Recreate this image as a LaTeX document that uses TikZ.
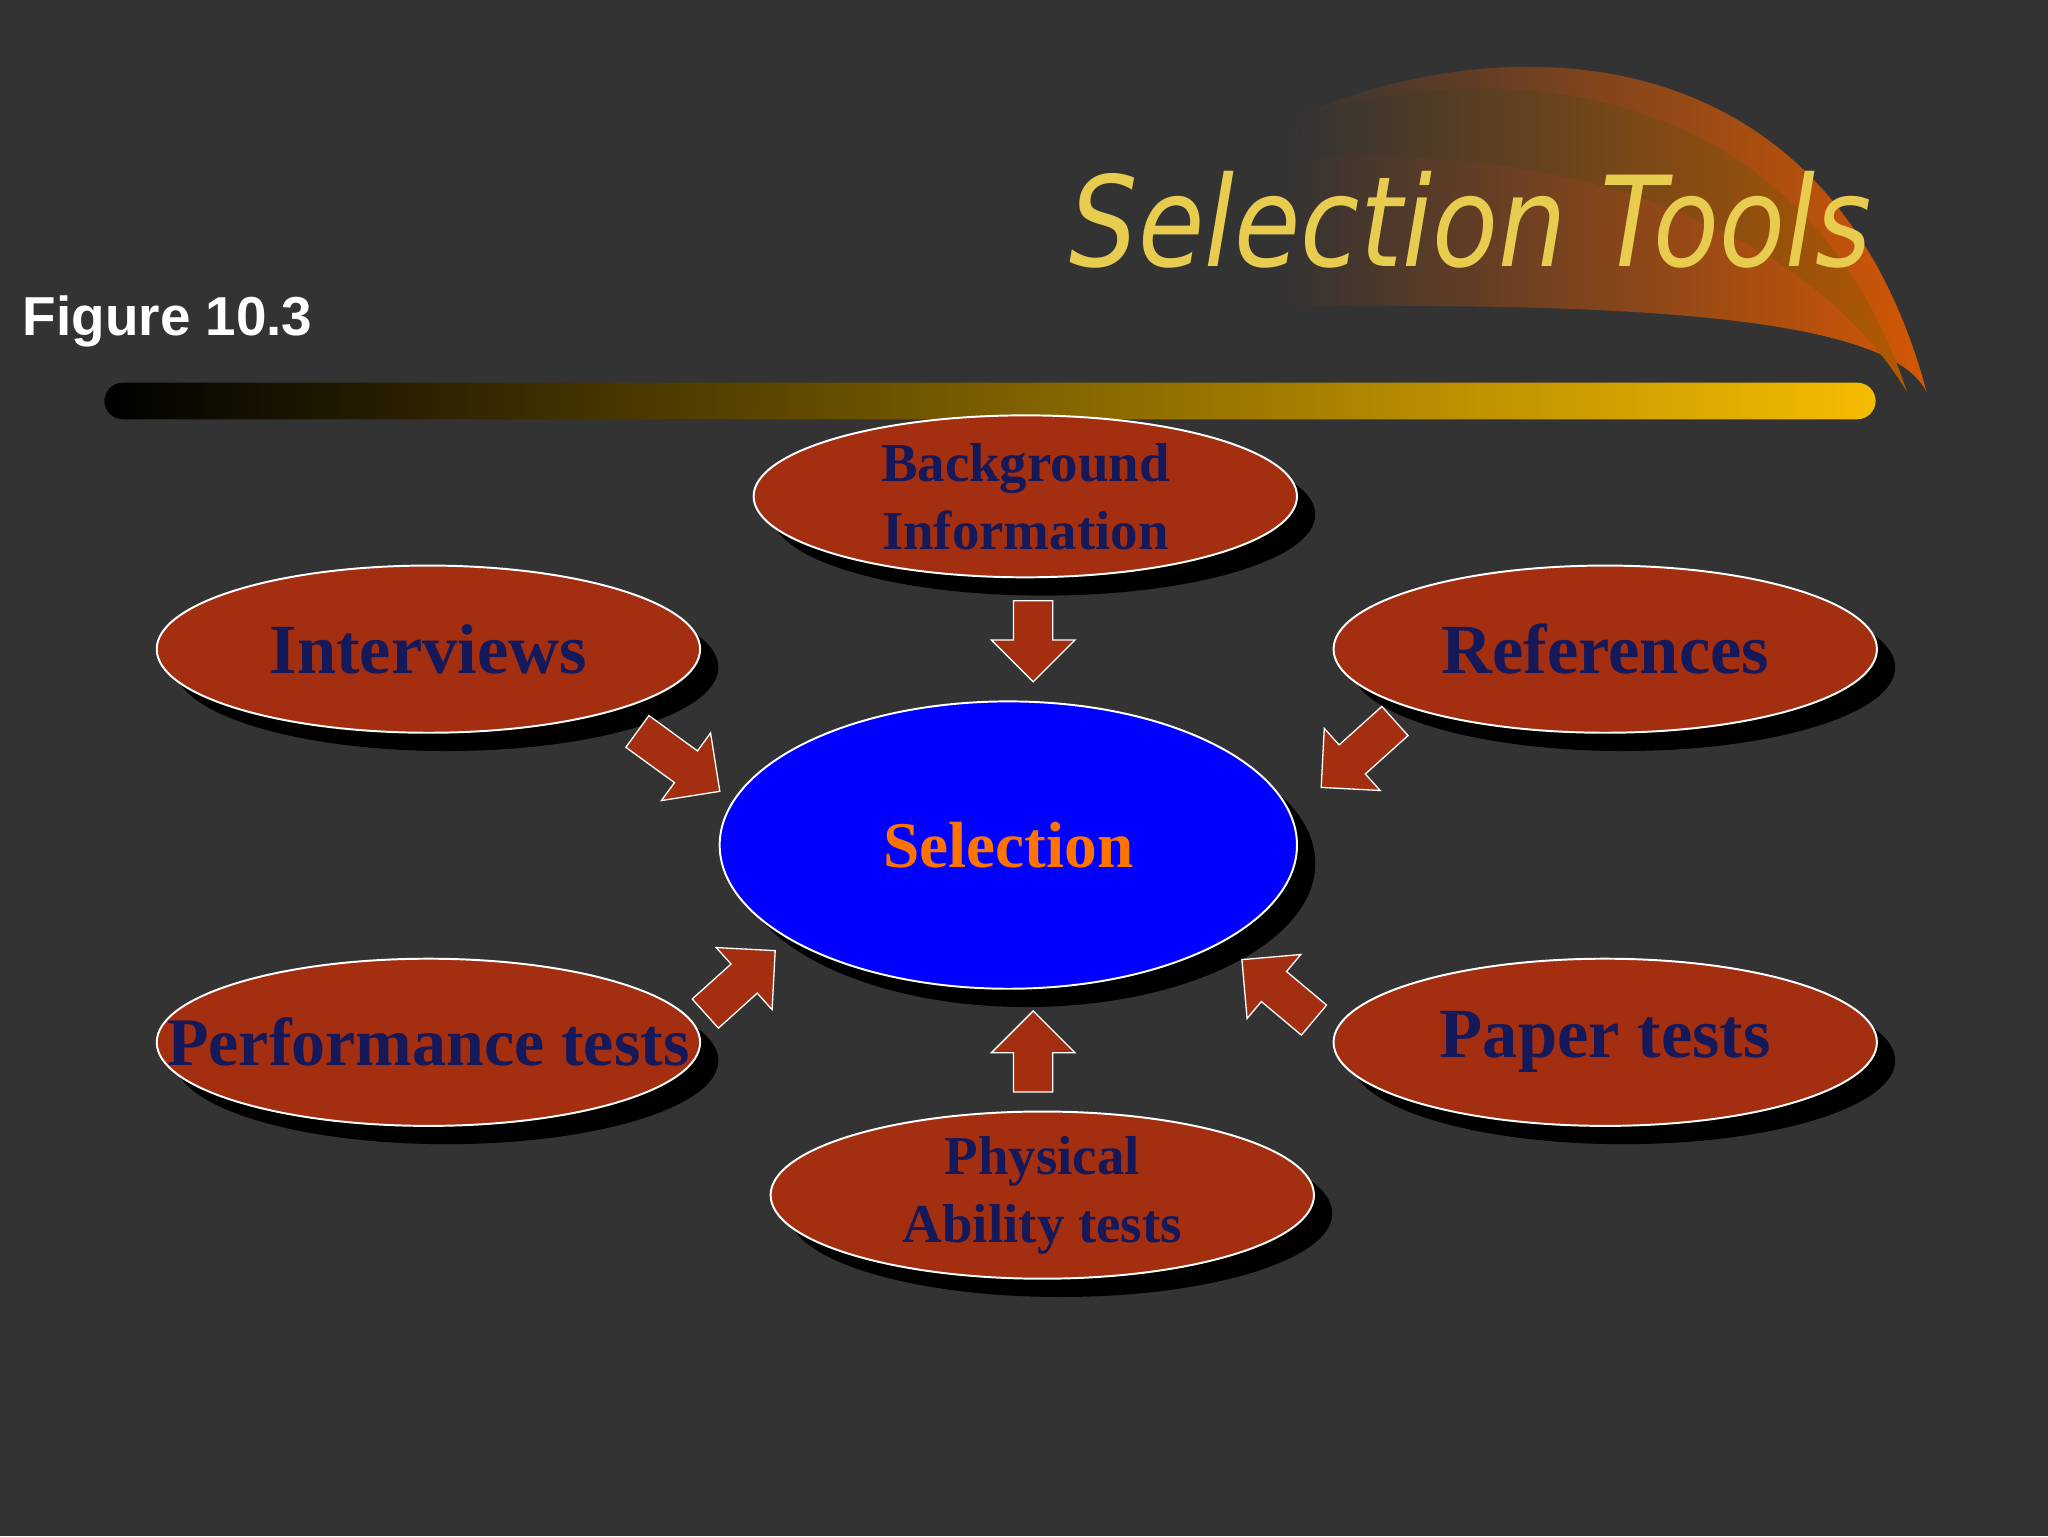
\documentclass[tikz,border=0pt]{standalone}
\usepackage{fontspec}
\setmainfont{Liberation Serif}
\newfontfamily\arialf{Liberation Sans}
\newfontfamily\titlef{DejaVu Sans}
\usetikzlibrary{shapes.geometric,shadows}
\definecolor{bg}{HTML}{333333}
\definecolor{brick}{HTML}{A32F10}
\definecolor{navy}{HTML}{15195A}
\definecolor{gold}{HTML}{F5BC00}
\definecolor{ttl}{HTML}{E8CC50}
\newcommand\blkarrow[5]{%
  \begin{scope}[shift={(#1,#2)},rotate=#3]
  \draw[blkarr] (0,-15) coordinate (#5) -- (#4-32,-15) -- (#4-32,-32) -- (#4,0) -- (#4-32,32) -- (#4-32,15) -- (0,15) -- cycle;
  \end{scope}}
\begin{document}
\begin{tikzpicture}[x=1pt,y=-1pt,
  tool/.style={ellipse,draw=white,line width=1.5pt,fill=brick,minimum width=416pt,minimum height=128pt,inner sep=0pt,align=center,text=navy,font=\bfseries\fontsize{54}{58}\selectfont,
    drop shadow={shadow xshift=14pt,shadow yshift=-14pt,fill=black,opacity=1}},
  small/.style={font=\bfseries\fontsize{42}{52}\selectfont},
  blkarr/.style={draw=white,line width=1pt,fill=brick}]
\fill[bg] (0,0) rectangle (1568,1176);
\useasboundingbox (0,0) rectangle (1568,1176);
% swoosh
\shade[left color=bg,right color=orange!80!red!90!black,opacity=0.9]
  (990,90) .. controls (1150,20) and (1400,20) .. (1475,300)
  .. controls (1450,250) and (1300,230) .. (980,235) -- cycle;
\shade[left color=bg,right color=orange!70!black] (990,90) .. controls (1150,40) and (1380,60) .. (1460,300)
  .. controls (1400,200) and (1250,110) .. (1000,120) -- cycle;
% bar
\shade[left color=black,right color=gold,rounded corners=14pt] (80,293) rectangle (1436,321);
\node[font=\titlef\itshape\fontsize{96}{110}\selectfont,text=ttl,anchor=east,xscale=0.86] (title) at (1436,168) {Selection Tools};
\node[font=\arialf\bfseries\fontsize{42}{46}\selectfont,text=white,anchor=west] (fig) at (14,246) {Figure 10.3};
\node[tool,minimum width=442pt,minimum height=220pt,fill=blue,text=orange!90!red,font=\bfseries\fontsize{50}{54}\selectfont] (sel) at (772,647) {Selection};
\node[tool,small,minimum height=124pt] (bg) at (785,380) {Background\\Information};
\node[tool] (int) at (328,497) {Interviews};
\node[tool] (ref) at (1229,497) {References};
\node[tool] (perf) at (328,798) {\makebox[0pt]{\fontsize{52}{56}\selectfont Performance tests}};
\node[tool] (pap) at (1229,798) {Paper tests};
\node[tool,small] (phy) at (798,915) {Physical\\Ability tests};
\blkarrow{791}{460}{-90}{62}{a1}
\blkarrow{791}{836}{90}{62}{a2}
\blkarrow{488}{560}{-36}{78}{a3}
\blkarrow{1068}{552}{-138}{76}{a4}
\blkarrow{540}{776}{42}{72}{a5}
\blkarrow{1006}{781}{140}{72}{a6}
\end{tikzpicture}
\end{document}
